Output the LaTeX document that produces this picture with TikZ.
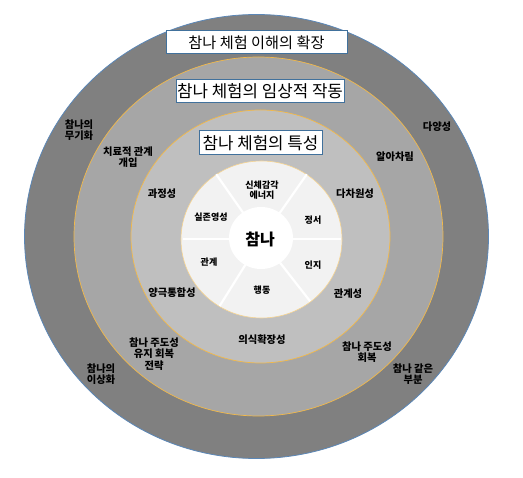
\documentclass[tikz,border=0pt]{standalone}
\usepackage{fontspec}
\setmainfont{Noto Sans CJK KR}
\usetikzlibrary{positioning}
\definecolor{ringdark}{HTML}{808080}
\definecolor{ringmid}{HTML}{A6A6A6}
\definecolor{ringlight}{HTML}{BFBFBF}
\definecolor{corefill}{HTML}{F2F2F2}
\definecolor{edgeblue}{HTML}{5B87B7}
\definecolor{edgegold}{HTML}{F2B94A}
\definecolor{boxblue}{HTML}{41719C}

\begin{document}
\begin{tikzpicture}[x=1pt, y=-1pt,
    lbl/.style={font=\bfseries\fontsize{10.3}{11.5}\selectfont, align=center},
    corelbl/.style={font=\bfseries\fontsize{9}{10}\selectfont, align=center},
    titlebox/.style={draw=boxblue, line width=1pt, fill=white, inner sep=0pt,
        font=\fontsize{16.8}{16.8}\selectfont}]

    \useasboundingbox (0,0) rectangle (523,478);
    \fill[white] (0,0) rectangle (523,478);

    % rings
    \filldraw[fill=ringdark, draw=edgeblue, line width=0.8pt]
        (256.5,236.5) ellipse [x radius=232, y radius=222];
    \filldraw[fill=ringmid, draw=edgegold, line width=0.7pt]
        (258.5,236.5) ellipse [x radius=184.5, y radius=179.5];
    \filldraw[fill=ringlight, draw=edgegold, line width=0.7pt]
        (260.5,236.5) ellipse [x radius=129.5, y radius=126.5];
    \filldraw[fill=corefill, draw=edgegold!60, line width=0.6pt]
        (261.5,239.5) ellipse [x radius=80.5, y radius=78.5];

    % spokes
    \foreach \a in {0, -55, -125, 180, 122, 52}{
        \draw[white, line width=2.2pt, shift={(261.5,239)}] (\a:30) -- (\a:79);
    }
    \fill[white] (261,238) ellipse [x radius=32, y radius=31];
    \node[font=\bfseries\fontsize{16}{16}\selectfont] (core) at (260,239) {참나};

    % core facets
    \node[corelbl] (body) at (262,190) {신체감각\\에너지};
    \node[corelbl] (emotion) at (313,220) {정서};
    \node[corelbl] (cognition) at (313,265) {인지};
    \node[corelbl] (action) at (262,290) {행동};
    \node[corelbl] (relation) at (209,262) {관계};
    \node[corelbl] (spirit) at (211,217) {실존영성};

    % characteristics
    \node[titlebox, minimum width=123, minimum height=24] (trait) at (260.5,143) {참나 체험의 특성};
    \node[lbl] (process) at (162,194) {과정성};
    \node[lbl] (multi) at (355,194) {다차원성};
    \node[lbl] (relational) at (348,294) {관계성};
    \node[lbl] (polar) at (172,293) {양극통합성};
    \node[lbl] (expand) at (262,340) {의식확장성};

    % clinical operation
    \node[titlebox, minimum width=168, minimum height=23] (clinic) at (260,91.5) {참나 체험의 임상적 작동};
    \node[lbl] (therapy) at (128,157) {치료적 관계\\개입};
    \node[lbl] (aware) at (395,157) {알아차림};
    \node[lbl] (keep) at (154,354) {참나 주도성\\유지 회복\\전략};
    \node[lbl] (recover) at (367,352) {참나 주도성\\회복};

    % extension
    \node[titlebox, minimum width=181, minimum height=23, font=\fontsize{15.2}{15.2}\selectfont]
        (extend) at (256.5,42.5) {참나 체험 이해의 확장};
    \node[lbl] (weapon) at (79,130) {참나의\\무기화};
    \node[lbl] (variety) at (437,127) {다양성};
    \node[lbl] (ideal) at (101,374) {참나의\\이상화};
    \node[lbl] (like) at (413,374) {참나 같은\\부분};

\end{tikzpicture}
\end{document}
